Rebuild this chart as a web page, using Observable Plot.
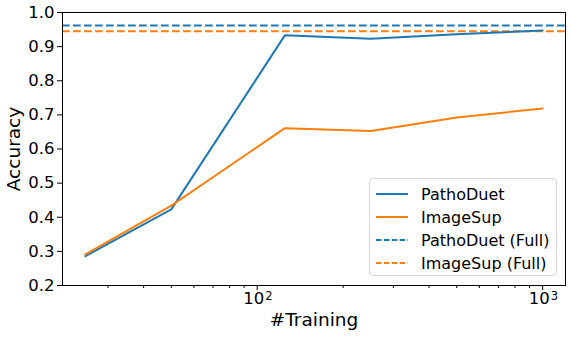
<!DOCTYPE html>
<html>
<head>
<meta charset="utf-8">
<script src="https://cdn.jsdelivr.net/npm/d3@7"></script>
<script src="https://cdn.jsdelivr.net/npm/@observablehq/plot@0.6"></script>
<style>
  html, body { margin: 0; padding: 0; background: #fff; }
  #wrap { position: relative; width: 571px; height: 339px; font-family: "DejaVu Sans", sans-serif; }
  #legend { position: absolute; left: 369px; top: 178px; width: 188px; height: 98px; box-sizing: border-box;
            border: 1px solid #d6d6d6; border-radius: 4px; background: rgba(255,255,255,0.8); font-size: 16px; color: #000; }
  .row { position: absolute; left: 0; height: 20px; display: flex; align-items: center; }
  .row svg { margin-left: 6px; margin-right: 13px; }
</style>
</head>
<body>
<div id="wrap"></div>
<script>
const trainSizes = [25, 50, 125, 250, 500, 1000];
const pathoDuet = [0.286, 0.423, 0.933, 0.923, 0.936, 0.947];
const imageSup = [0.291, 0.434, 0.661, 0.653, 0.692, 0.719];
const seriesNames = ["PathoDuet", "ImageSup"];
const fullNames = ["PathoDuet (Full)", "ImageSup (Full)"];
const fullValues = [0.962, 0.945];
const colors = ["#1f77b4", "#ff7f0e"];
const yTicks = [0.2, 0.3, 0.4, 0.5, 0.6, 0.7, 0.8, 0.9, 1.0];
const xMajorTicks = [100, 1000];
const xTickBase = ["10", "10"];
const xTickExp = ["2", "3"];
const xMinorTicks = [30, 40, 50, 60, 70, 80, 90, 200, 300, 400, 500, 600, 700, 800, 900];

const rows = [];
trainSizes.forEach((n, i) => {
  rows.push({series: seriesNames[0], n, acc: pathoDuet[i]});
  rows.push({series: seriesNames[1], n, acc: imageSup[i]});
});
const fullRows = fullNames.map((s, i) => ({series: s, acc: fullValues[i], color: colors[i]}));
const xLabels = xMajorTicks.map((t, i) => ({x: t, base: xTickBase[i], exp: xTickExp[i]}));

const lo = Math.log10(25), hi = Math.log10(1000), pad = (hi - lo) * 0.05;
const xDomain = [Math.pow(10, lo - pad), Math.pow(10, hi + pad)];

const chart = Plot.plot({
  width: 571,
  height: 339,
  marginLeft: 62,
  marginRight: 6,
  marginTop: 12,
  marginBottom: 54,
  style: {fontFamily: "DejaVu Sans, sans-serif", fontSize: "16px", color: "#000", background: "#fff"},
  x: {type: "log", domain: xDomain, label: null},
  y: {domain: [0.2, 1.0], label: null},
  marks: [
    Plot.ruleY(fullRows, {y: "acc", stroke: "color", strokeWidth: 2, strokeDasharray: "7.7,3.3"}),
    Plot.line(rows, {x: "n", y: "acc", z: "series", stroke: d => colors[seriesNames.indexOf(d.series)], strokeWidth: 2}),
    Plot.frame({stroke: "#000", strokeWidth: 1}),
    Plot.axisY(yTicks, {tickSize: 5, tickPadding: 3, tickFormat: d => d.toFixed(1), fontSize: 16.5, label: null}),
    Plot.axisX(xMajorTicks, {tickSize: 5, tickFormat: () => "", label: null}),
    Plot.axisX(xMinorTicks, {tickSize: 3, tickFormat: () => "", label: null}),
    Plot.text(xLabels, {x: "x", text: "base", frameAnchor: "bottom", dy: 18, dx: 7, textAnchor: "end", fontSize: 16.5}),
    Plot.text(xLabels, {x: "x", text: "exp", frameAnchor: "bottom", dy: 14, dx: 8, textAnchor: "start", fontSize: 11.5}),
    Plot.text(["#Training"], {frameAnchor: "bottom", dy: 40, fontSize: 18.5}),
    Plot.text(["Accuracy"], {frameAnchor: "left", dx: -48, rotate: -90, textAnchor: "middle", fontSize: 18.5})
  ]
});
chart.style.overflow = "visible";
const wrap = document.getElementById("wrap");
wrap.appendChild(chart);

const legend = document.createElement("div");
legend.id = "legend";
const entries = [
  {name: seriesNames[0], color: colors[0], dash: null},
  {name: seriesNames[1], color: colors[1], dash: null},
  {name: fullNames[0], color: colors[0], dash: "5.5,2.4"},
  {name: fullNames[1], color: colors[1], dash: "5.5,2.4"}
];
entries.forEach((e, i) => {
  const r = document.createElement("div");
  r.className = "row";
  r.style.top = (5 + i * 23) + "px";
  r.innerHTML = `<svg width="32" height="6"><line x1="0" y1="3" x2="32" y2="3" stroke="${e.color}" stroke-width="2" ${e.dash ? `stroke-dasharray="${e.dash}"` : ""}/></svg><span>${e.name}</span>`;
  legend.appendChild(r);
});
wrap.appendChild(legend);
</script>
</body>
</html>
